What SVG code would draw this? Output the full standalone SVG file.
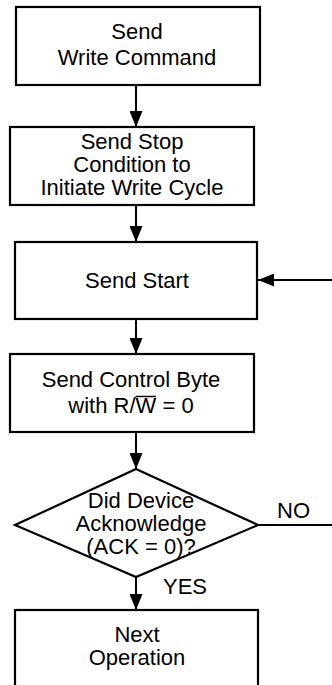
<svg xmlns="http://www.w3.org/2000/svg" width="332" height="685" viewBox="0 0 332 685">
<style>
.box{fill:#fff;stroke:#000;stroke-width:2.2}
.t{font-family:"Liberation Sans",Arial,sans-serif;font-size:22px;fill:#000;text-anchor:middle}
.lbl{font-family:"Liberation Sans",Arial,sans-serif;font-size:22px;fill:#000}
.c{stroke:#000;stroke-width:2;fill:none}
</style>
<defs>
<marker id="ah" viewBox="0 0 16 13" refX="16" refY="6.5" markerWidth="16" markerHeight="13" markerUnits="userSpaceOnUse" orient="auto">
<path d="M0,0 L16,6.5 L0,13 Z" fill="#000"/>
</marker>
</defs>
<rect width="332" height="685" fill="#fff"/>
<g id="connectors">
<line class="c" x1="136" y1="85" x2="136" y2="127" marker-end="url(#ah)"/>
<line class="c" x1="136" y1="205" x2="136" y2="242" marker-end="url(#ah)"/>
<line class="c" x1="332" y1="280" x2="258" y2="280" marker-end="url(#ah)"/>
<line class="c" x1="136" y1="319" x2="136" y2="354" marker-end="url(#ah)"/>
<line class="c" x1="136" y1="432" x2="136" y2="469" marker-end="url(#ah)"/>
<line class="c" x1="136" y1="577" x2="136" y2="610" marker-end="url(#ah)"/>
<line class="c" x1="258" y1="525" x2="332" y2="525"/>
<text class="lbl" x="277" y="518">NO</text>
<text class="lbl" x="163" y="594">YES</text>
</g>
<g id="n1">
<rect class="box" x="16" y="7" width="244" height="78"/>
<text class="t" x="137" y="39">Send</text>
<text class="t" x="137" y="65">Write Command</text>
</g>
<g id="n2">
<rect class="box" x="10" y="127" width="244" height="78"/>
<text class="t" x="132" y="149">Send Stop</text>
<text class="t" x="132" y="172">Condition to</text>
<text class="t" x="132" y="195">Initiate Write Cycle</text>
</g>
<g id="n3">
<rect class="box" x="15" y="242" width="242" height="77"/>
<text class="t" x="137" y="288">Send Start</text>
</g>
<g id="n4">
<rect class="box" x="10" y="354" width="244" height="78"/>
<text class="t" x="131" y="387">Send Control Byte</text>
<text class="t" x="131" y="413">with R/W = 0</text>
<line x1="135.5" y1="396.5" x2="156" y2="396.5" stroke="#000" stroke-width="1.5"/>
</g>
<g id="n5">
<polygon class="box" points="136,469 258,525 136,577 15,525"/>
<text class="t" x="141" y="508">Did Device</text>
<text class="t" x="141" y="531">Acknowledge</text>
<text class="t" x="141" y="554">(ACK = 0)?</text>
</g>
<g id="n6">
<rect class="box" x="15" y="610" width="243" height="90"/>
<text class="t" x="137" y="642">Next</text>
<text class="t" x="137" y="665">Operation</text>
</g>
</svg>
